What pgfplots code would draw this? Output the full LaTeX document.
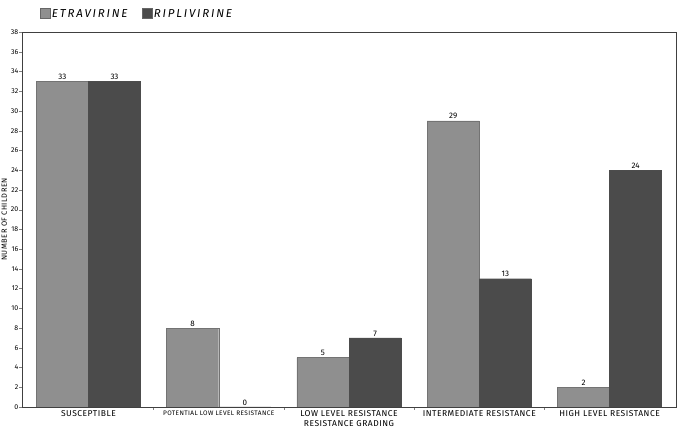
\documentclass[border=0pt]{standalone}
\usepackage{fontspec}
\setmainfont{Fira Sans}
\newfontfamily\lbl{Fira Sans}[LetterSpace=6]
\newfontfamily\leg{Fira Sans}[LetterSpace=16]
\usepackage{pgfplots}
\pgfplotsset{compat=1.18}
\definecolor{etra}{HTML}{8F8F8F}
\definecolor{ripl}{HTML}{4B4B4B}

\begin{document}
\begin{tikzpicture}
\begin{axis}[
  name=ax,
  at={(0,0)}, anchor=south west,
  scale only axis, width=654pt, height=375pt,
  xmin=-0.51, xmax=4.51, ymin=0, ymax=38,
  ytick={0,2,...,38},
  xtick={0,1,2,3,4},
  xticklabels={SUSCEPTIBLE,{\fontsize{6.5}{7}\selectfont POTENTIAL LOW LEVEL RESISTANCE},LOW LEVEL RESISTANCE,INTERMEDIATE RESISTANCE,HIGH LEVEL RESISTANCE},
  major x tick style={draw=none},
  minor xtick={0.5,1.5,2.5,3.5},
  minor tick length=3pt,
  tick align=outside,
  ytick pos=left, xtick pos=bottom,
  major tick length=2.5pt,
  /pgf/number format/assume math mode=true,
  yticklabel style={font=\fontsize{7}{8}\selectfont, inner sep=1pt},
  xticklabel style={font=\lbl\fontsize{8.5}{9}\selectfont, inner sep=1pt},
  xlabel={RESISTANCE GRADING},
  xlabel style={font=\lbl\fontsize{8.5}{9}\selectfont, at={(axis description cs:0.5,-0.044)}, anchor=center},
  ylabel={NUMBER OF CHILDREN},
  ylabel style={font=\lbl\fontsize{7.5}{8}\selectfont, at={(axis description cs:-0.027,0.5)}, anchor=center},
  axis line style={draw=black!75, line width=0.9pt},
  ybar, bar width=0.4,
  nodes near coords,
  nodes near coords style={font=\fontsize{8}{9}\selectfont, inner sep=1.5pt},
  legend style={at={(0.022,1.048)}, anchor=west, draw=none, fill=none,
    legend columns=2, font=\leg\itshape\fontsize{11.5}{12}\selectfont,
    /tikz/every even column/.append style={column sep=12pt}},
  legend image code/.code={\draw[#1, draw=black!60] (0pt,-4.5pt) rectangle (10pt,5.5pt);},
]
\addplot[fill=etra, draw=black!55, bar shift=-0.2] coordinates {(0,33) (1,8) (2,5) (3,29) (4,2)};
\addlegendentry{ETRAVIRINE}
\addplot[fill=ripl, draw=black!70, bar shift=0.2] coordinates {(0,33) (1,0) (2,7) (3,13) (4,24)};
\addlegendentry{RIPLIVIRINE}
\end{axis}
\pgfresetboundingbox
\useasboundingbox (ax.south west) ++(-22pt,-21pt) rectangle ([xshift=2pt,yshift=32pt]ax.north east);
\end{tikzpicture}
\end{document}
